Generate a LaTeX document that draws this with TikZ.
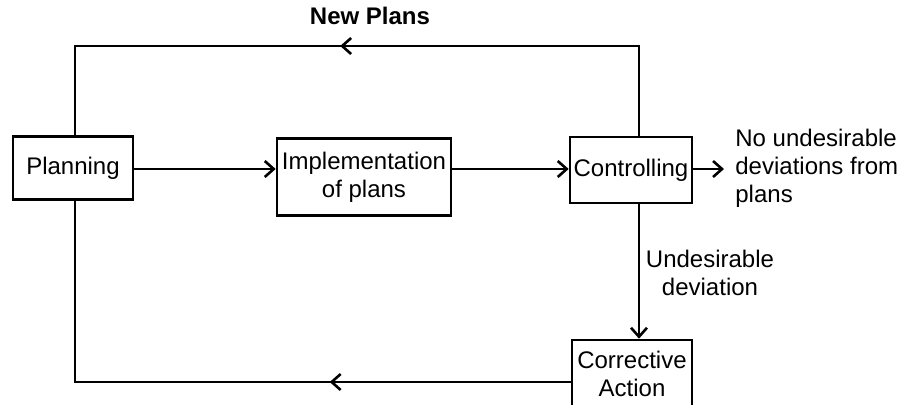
\documentclass[tikz,border=0pt]{standalone}
\usepackage{fontspec}
\setmainfont{Liberation Sans}
\usetikzlibrary{arrows.meta,decorations.markings}

\tikzset{
  box/.style={draw, line width=1.3pt, inner sep=1pt, align=center, font=\fontsize{12}{14}\selectfont},
  txt/.style={inner sep=0pt, font=\fontsize{12}{14}\selectfont},
  flow/.style={line width=1.3pt, -{Straight Barb[length=4.5pt,width=8pt]}},
  midarrow/.style={line width=1.3pt, postaction={decorate},
    decoration={markings, mark=at position #1 with {\arrow{Straight Barb[length=4.5pt,width=8pt]}}}},
}

\begin{document}
\begin{tikzpicture}[x=0.5pt,y=-0.5pt]
        \useasboundingbox (0,0) rectangle (901,404);

        \node[box, minimum width=60pt, minimum height=31.5pt] at (73,168) (plan) {Planning};
        \node[box, minimum width=87pt, minimum height=38.5pt] at (364,177) (impl) {Implementation\\of plans};
        \node[box, minimum width=61pt, minimum height=33pt] at (631,170) (ctrl) {Controlling};
        \node[box, minimum width=60pt, minimum height=34pt] at (632,374) (corr) {Corrective\\Action};

        \node[txt, font=\fontsize{12}{14}\selectfont\bfseries] at (370,16) (newplans) {New Plans};
        \node[txt, anchor=west, align=left] at (735,168) (nodev) {No undesirable\\deviations from\\plans};
        \node[txt, align=center] at (710,273) (dev) {Undesirable\\deviation};

        \coordinate (tr) at (639,46);
        \coordinate (tl) at (75,46);
        \coordinate (bl) at (75,382);
        \coordinate (ok) at (724,169);

        \path[flow]
        (plan.east |- 0,169) edge (impl.west |- 0,169)
        (impl.east |- 0,169) edge (ctrl.west |- 0,169)
        (ctrl.east |- 0,169) edge (ok)
        (ctrl.south -| tr) edge (corr.north -| tr)
        ;

        % feedback loops
        \draw[midarrow=0.523] (ctrl.north -| tr) -- (tr) -- (tl) -- (plan.north -| tl);
        \draw[midarrow=0.356] (corr.west |- bl) -- (bl) -- (plan.south -| bl);
\end{tikzpicture}
\end{document}
